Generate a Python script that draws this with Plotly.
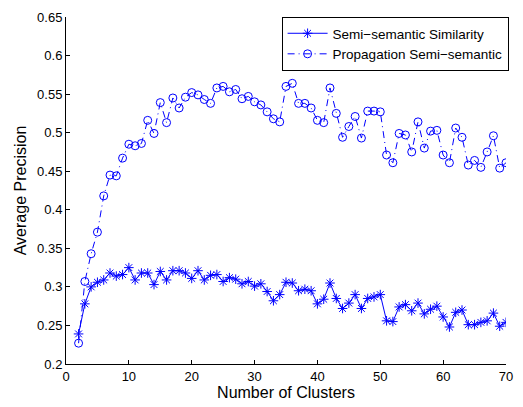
import plotly.graph_objects as go

clusters = list(range(2, 71))

semi_semantic = [
    0.239, 0.278, 0.300, 0.306, 0.309, 0.318, 0.314, 0.316, 0.325, 0.309,
    0.318, 0.318, 0.303, 0.320, 0.309, 0.321, 0.321, 0.318, 0.311, 0.321,
    0.309, 0.315, 0.316, 0.307, 0.312, 0.310, 0.304, 0.307, 0.301, 0.304,
    0.294, 0.282, 0.290, 0.306, 0.305, 0.295, 0.297, 0.295, 0.278, 0.284,
    0.305, 0.285, 0.272, 0.279, 0.290, 0.272, 0.285, 0.287, 0.290, 0.256,
    0.255, 0.274, 0.277, 0.269, 0.279, 0.265, 0.271, 0.275, 0.261, 0.248,
    0.267, 0.270, 0.251, 0.251, 0.254, 0.256, 0.266, 0.249, 0.254,
]

propagation = [
    0.227, 0.307, 0.343, 0.371, 0.418, 0.445, 0.444, 0.467, 0.485, 0.483,
    0.486, 0.516, 0.499, 0.539, 0.513, 0.545, 0.532, 0.546, 0.552, 0.549,
    0.543, 0.538, 0.558, 0.560, 0.553, 0.556, 0.544, 0.547, 0.540, 0.536,
    0.527, 0.518, 0.514, 0.560, 0.564, 0.538, 0.538, 0.532, 0.516, 0.513,
    0.558, 0.525, 0.494, 0.508, 0.521, 0.493, 0.528, 0.528, 0.527, 0.471,
    0.461, 0.499, 0.497, 0.475, 0.514, 0.480, 0.502, 0.503, 0.471, 0.461,
    0.506, 0.494, 0.458, 0.464, 0.455, 0.475, 0.496, 0.454, 0.461,
]

x_ticks = [0, 10, 20, 30, 40, 50, 60, 70]
y_ticks = [0.2, 0.25, 0.3, 0.35, 0.4, 0.45, 0.5, 0.55, 0.6, 0.65]
y_tick_text = ["0.2", "0.25", "0.3", "0.35", "0.4", "0.45", "0.5", "0.55", "0.6", "0.65"]

blue = "rgb(0,0,255)"
font = "Liberation Sans, Arial, Helvetica, sans-serif"

fig = go.Figure()
fig.add_trace(go.Scatter(
    x=clusters, y=semi_semantic, mode="lines+markers",
    name="Semi\u2212semantic Similarity",
    line=dict(color=blue, width=1),
    marker=dict(symbol="asterisk-open", size=8, color=blue,
                line=dict(color=blue, width=1)),
))
fig.add_trace(go.Scatter(
    x=clusters, y=propagation, mode="lines+markers",
    name="Propagation Semi\u2212semantic",
    line=dict(color=blue, width=1, dash="7px,4px,1px,4px"),
    marker=dict(symbol="circle-open", size=8, color=blue,
                line=dict(color=blue, width=1)),
))

axis_common = dict(
    showgrid=False, zeroline=False, showline=True, linecolor="black",
    linewidth=1, ticks="inside", ticklen=4, tickcolor="black",
    tickfont=dict(family=font, size=13, color="black"),
    mirror=False,
)

fig.update_layout(
    width=523, height=407,
    margin=dict(l=66, r=10, t=13, b=43),
    paper_bgcolor="white", plot_bgcolor="white",
    font=dict(family=font, color="black"),
    xaxis=dict(range=[0, 70], tickvals=x_ticks,
               title=dict(text="Number of Clusters", font=dict(family=font, size=16), standoff=2),
               **axis_common),
    yaxis=dict(range=[0.2, 0.65], tickvals=y_ticks, ticktext=y_tick_text,
               title=dict(text="Average Precision", font=dict(family=font, size=16), standoff=6),
               **axis_common),
    legend=dict(x=0.49, y=1.0, xanchor="left", yanchor="top",
                bgcolor="white", bordercolor="black", borderwidth=1,
                font=dict(family=font, size=13.5), tracegroupgap=0,
                itemwidth=40),
    showlegend=True,
)

fig.write_html("out.html")
